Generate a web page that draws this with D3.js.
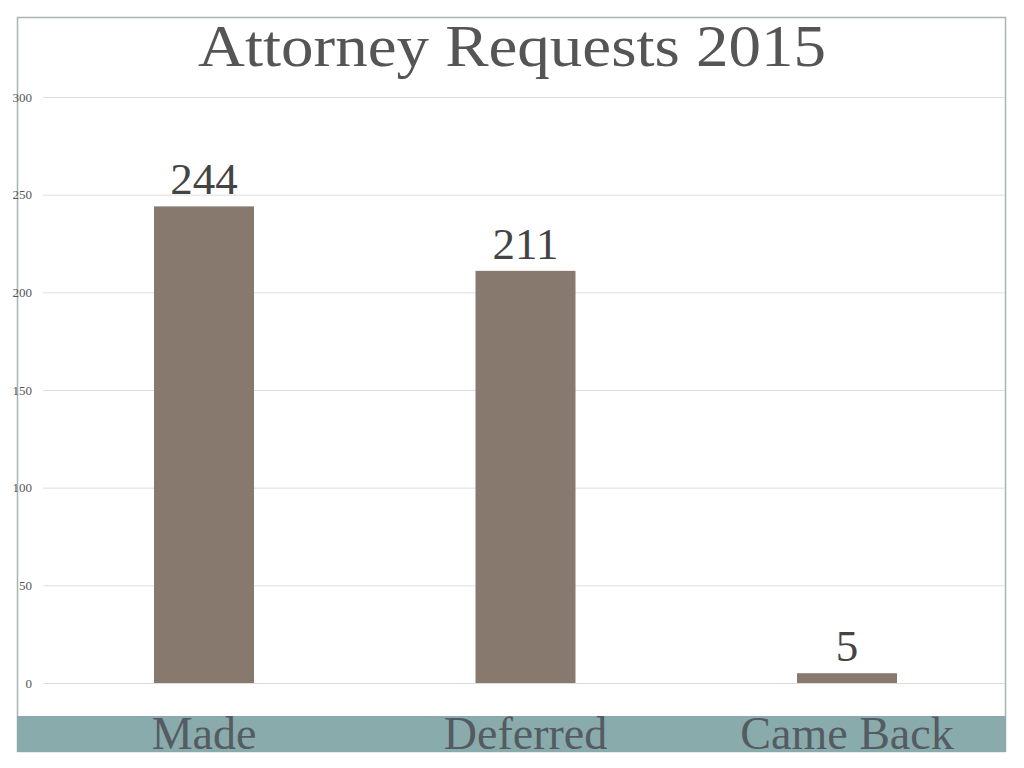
<!DOCTYPE html>
<html><head><meta charset="utf-8">
<script src="https://cdn.jsdelivr.net/npm/d3@7"></script>
<style>body{margin:0;background:#fff}svg{display:block}</style>
</head><body>
<svg id="c" width="1024" height="768"></svg>
<script>
const title = "Attorney Requests 2015";
const categories = ["Made", "Deferred", "Came Back"];
const values = [244, 211, 5];
const yTicks = [0, 50, 100, 150, 200, 250, 300];

const svg = d3.select("#c");
const serif = "Georgia, 'Liberation Serif', 'DejaVu Serif', serif";

// frame
svg.append("rect").attr("x", 17.5).attr("y", 17.5).attr("width", 988).attr("height", 734)
  .attr("fill", "#fff").attr("stroke", "#a9b5b5").attr("stroke-width", 1.5);

const y = d3.scaleLinear().domain([0, 300]).range([683, 97]);
const x = d3.scaleBand().domain(categories).range([43.25, 1007.75])
  .paddingInner(0.689).paddingOuter(0.3445);

// gridlines
const grid = svg.append("g")
  .call(d3.axisLeft(y).tickValues(yTicks).tickSize(-(1005 - 43)).tickFormat(""))
  .attr("transform", "translate(43,0)");
grid.select(".domain").remove();
grid.selectAll("line").attr("stroke", "#dcdcdc").attr("stroke-width", 1);

// tick labels
const yAxis = svg.append("g").attr("transform", "translate(32,0)")
  .call(d3.axisLeft(y).tickValues(yTicks).tickSize(0).tickPadding(0));
yAxis.select(".domain").remove();
yAxis.selectAll("text").attr("font-family", serif).attr("font-size", 13)
  .attr("fill", "#555").attr("text-anchor", "end");

// bars
svg.append("g").selectAll("rect").data(values).join("rect")
  .attr("x", (d, i) => x(categories[i]))
  .attr("y", d => y(d))
  .attr("width", x.bandwidth())
  .attr("height", d => y(0) - y(d))
  .attr("fill", "#88796e");

// value labels
svg.append("g").selectAll("text").data(values).join("text")
  .attr("x", (d, i) => x(categories[i]) + x.bandwidth() / 2)
  .attr("y", d => y(d) - 12)
  .attr("text-anchor", "middle")
  .attr("font-family", serif).attr("font-size", 45).attr("fill", "#444")
  .text(d => d);

// category band
svg.append("rect").attr("x", 17).attr("y", 716).attr("width", 989).attr("height", 36)
  .attr("fill", "#8aabab");
svg.append("g").selectAll("text").data(categories).join("text")
  .attr("x", d => x(d) + x.bandwidth() / 2)
  .attr("y", 749)
  .attr("text-anchor", "middle")
  .attr("font-family", serif).attr("font-size", 46).attr("fill", "#555b62")
  .text(d => d);

// title
svg.append("text").attr("x", 512).attr("y", 66).attr("text-anchor", "middle")
  .attr("font-family", serif).attr("font-size", 60).attr("fill", "#555")
  .attr("textLength", 628).attr("lengthAdjust", "spacingAndGlyphs")
  .text(title);
</script>
</body></html>
